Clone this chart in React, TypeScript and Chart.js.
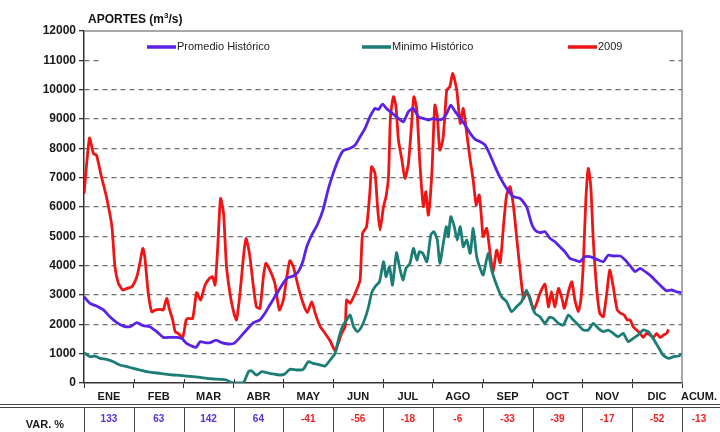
import { useEffect, useRef } from "react";
import { Chart, registerables } from "chart.js";

Chart.register(...registerables);

const FONT = "'Liberation Sans', Arial, sans-serif";

const monthLabels = ["ENE", "FEB", "MAR", "ABR", "MAY", "JUN", "JUL", "AGO", "SEP", "OCT", "NOV", "DIC"];
const accumLabel = "ACUM.";
const rowLabel = "VAR. %";
const varValues = [133, 63, 142, 64, -41, -56, -18, -6, -33, -39, -17, -52];
const varAccum = -13;

const seriesNames = ["Promedio Histórico", "Minimo Histórico", "2009"];

// x in months (0 = 1 Jan, 12 = 31 Dec)
const avgMonths = [0.00,0.12,0.25,0.39,0.52,0.66,0.79,0.92,1.06,1.19,1.32,1.46,1.59,1.73,1.86,1.96,2.06,2.16,2.25,2.33,2.43,2.53,2.65,2.76,2.90,3.01,3.13,3.26,3.40,3.53,3.63,3.73,3.83,3.93,4.07,4.20,4.30,4.39,4.47,4.57,4.68,4.80,4.90,5.00,5.10,5.20,5.34,5.44,5.54,5.64,5.74,5.84,5.91,5.99,6.07,6.17,6.31,6.41,6.51,6.61,6.71,6.81,6.91,7.01,7.11,7.21,7.28,7.36,7.45,7.55,7.65,7.75,7.85,7.95,8.05,8.15,8.25,8.35,8.48,8.62,8.75,8.88,8.98,9.05,9.15,9.25,9.35,9.45,9.55,9.65,9.75,9.85,9.95,10.05,10.15,10.29,10.42,10.52,10.62,10.76,10.86,10.96,11.06,11.16,11.29,11.39,11.49,11.59,11.69,11.79,11.89,11.99];
const avgValues = [2940,2715,2625,2490,2260,2055,1940,1920,2055,1955,1920,1750,1556,1556,1556,1520,1350,1260,1215,1410,1375,1375,1465,1375,1330,1350,1556,1806,2055,2150,2375,2660,2940,3225,3570,3645,3795,4135,4645,5045,5385,5920,6600,7145,7600,7920,8000,8110,8395,8680,9080,9360,9325,9510,9360,9215,9020,8905,9250,9360,9080,9020,8965,9020,8965,9020,9190,9475,9250,9020,8790,8510,8305,8225,8110,7770,7370,7010,6635,6350,6295,6010,5440,5215,5125,5160,4930,4815,4645,4475,4250,4190,4135,4305,4305,4215,4135,4360,4330,4330,4190,3990,3795,3910,3760,3625,3455,3285,3145,3170,3110,3080];

const minMonths = [0.00,0.12,0.22,0.32,0.45,0.59,0.72,0.86,0.99,1.12,1.26,1.39,1.53,1.66,1.79,1.93,2.06,2.19,2.33,2.46,2.60,2.73,2.86,2.96,3.06,3.20,3.30,3.36,3.46,3.57,3.67,3.80,3.93,4.03,4.13,4.27,4.40,4.50,4.60,4.74,4.84,4.94,5.04,5.12,5.20,5.27,5.34,5.41,5.49,5.57,5.64,5.71,5.77,5.84,5.93,6.01,6.06,6.13,6.19,6.27,6.33,6.40,6.46,6.54,6.61,6.68,6.73,6.80,6.88,6.96,7.02,7.09,7.14,7.21,7.27,7.31,7.36,7.43,7.49,7.55,7.61,7.68,7.75,7.81,7.88,7.95,8.01,8.11,8.18,8.28,8.38,8.48,8.58,8.68,8.78,8.88,8.95,9.05,9.15,9.25,9.34,9.42,9.52,9.62,9.72,9.82,9.92,10.02,10.12,10.22,10.32,10.42,10.52,10.62,10.72,10.82,10.92,11.02,11.12,11.22,11.32,11.42,11.52,11.62,11.73,11.83,11.93,11.99];
const minValues = [1035,900,920,840,805,727,615,557,500,443,386,352,330,295,273,261,238,216,193,159,136,125,102,11,0,11,386,420,273,386,352,307,273,307,466,443,466,727,670,615,580,784,1011,1580,1977,2147,2317,1920,1750,1920,2204,2600,3055,3283,3454,4135,3624,3965,3340,4442,3965,3510,3908,4078,4590,4192,4476,4420,4135,5044,5157,4873,4078,4760,5328,4987,5670,5328,4873,5328,4646,4873,4420,5271,4305,3908,3680,4420,3850,3340,2940,2772,2431,2600,2772,3170,2830,2374,2260,2033,2240,2204,2033,1977,2317,2147,1977,1806,1806,2033,1863,1750,1806,1693,1579,1693,1409,1522,1636,1806,1750,1522,1238,954,840,897,920,988];

const y2009Months = [0.00,0.11,0.19,0.25,0.35,0.45,0.56,0.62,0.69,0.78,0.86,0.96,1.06,1.12,1.18,1.22,1.29,1.36,1.44,1.53,1.59,1.66,1.71,1.78,1.83,1.89,1.98,2.05,2.09,2.18,2.26,2.34,2.43,2.52,2.58,2.63,2.68,2.74,2.80,2.86,2.94,3.01,3.06,3.13,3.20,3.25,3.32,3.40,3.46,3.53,3.60,3.65,3.73,3.83,3.92,4.00,4.07,4.13,4.20,4.30,4.40,4.48,4.57,4.64,4.74,4.84,4.94,5.04,5.10,5.17,5.24,5.27,5.34,5.41,5.47,5.54,5.59,5.67,5.74,5.77,5.84,5.89,5.94,6.01,6.06,6.11,6.15,6.21,6.26,6.31,6.38,6.44,6.51,6.58,6.62,6.68,6.74,6.81,6.86,6.91,6.98,7.04,7.09,7.14,7.20,7.24,7.28,7.34,7.40,7.48,7.55,7.61,7.68,7.75,7.81,7.87,7.93,7.98,8.01,8.08,8.15,8.21,8.28,8.35,8.42,8.48,8.55,8.62,8.68,8.75,8.82,8.88,8.95,9.02,9.08,9.15,9.25,9.32,9.38,9.45,9.52,9.59,9.64,9.72,9.79,9.85,9.92,9.97,10.02,10.07,10.12,10.17,10.22,10.29,10.35,10.42,10.49,10.55,10.62,10.70,10.77,10.84,10.90,10.96,11.02,11.09,11.16,11.22,11.29,11.36,11.43,11.49,11.56,11.63,11.69,11.73];
const y2009Values = [6450,8350,7820,7770,7030,6350,5330,3965,3400,3170,3225,3280,3620,4080,4590,4300,3055,2430,2490,2510,2490,2885,2545,2150,1750,1690,1556,2150,2200,2200,3080,2830,3340,3570,3620,3340,4530,6290,5780,3965,2940,2375,2150,3055,4305,4930,4420,3280,2600,2545,3620,4080,3850,3400,2490,2830,3620,4170,3965,3280,2700,2400,2770,2375,1920,1690,1430,1100,1350,1690,1920,2830,2715,2940,3170,3510,5100,5330,6580,7370,7145,6010,5210,6010,6350,7030,9080,9760,9420,8280,7600,6975,7490,8965,9760,9300,7490,6010,6520,5725,7145,9475,9080,7940,8280,9080,9985,10100,10550,9985,8850,9360,8510,7600,6920,6070,6410,5555,4990,5270,4420,3795,4530,4100,5400,6400,6690,6000,5000,3850,2880,3080,2900,2490,2700,3055,3370,2600,3110,2600,3225,2885,2545,3110,3450,2830,2430,2830,4080,6235,7315,6690,4870,3170,2375,2260,3055,3850,3280,2490,2375,2320,2150,2150,1920,1806,1690,1556,1690,1636,1556,1690,1556,1636,1690,1830];

const COLORS = ["#5a22e6", "#1b7d76", "#f01414"];
const POS_COLOR = "#5a30d8";
const NEG_COLOR = "#ee2020";

const toPoints = (xs: number[], ys: number[]) => xs.map((x, i) => ({ x, y: ys[i] }));

const decorPlugin = {
  id: "decor",
  beforeDraw(chart: any) {
    const { ctx, width, height } = chart;
    ctx.save();
    ctx.fillStyle = "#ffffff";
    ctx.fillRect(0, 0, width, height);
    ctx.restore();
  },
  afterDraw(chart: any) {
    const { ctx, chartArea: ca, scales } = chart;
    const xs = scales.x;
    ctx.save();
    // top and right frame
    ctx.strokeStyle = "#8c8c8c";
    ctx.lineWidth = 1.5;
    ctx.setLineDash([]);
    ctx.beginPath();
    ctx.moveTo(ca.left, ca.top);
    ctx.lineTo(ca.right, ca.top);
    ctx.lineTo(ca.right, ca.bottom);
    ctx.stroke();

    // x tick marks crossing the axis upward
    ctx.strokeStyle = "#333";
    ctx.lineWidth = 1;
    for (let i = 1; i < 12; i++) {
      const px = Math.round(xs.getPixelForValue(i)) + 0.5;
      ctx.beginPath();
      ctx.moveTo(px, ca.bottom - 4);
      ctx.lineTo(px, ca.bottom);
      ctx.stroke();
    }

    // legend box
    ctx.fillStyle = "#ffffff";
    ctx.fillRect(ca.left + 16, ca.top + 5, ca.right - ca.left - 31, 27);
    const legendX = [147, 362, 568];
    ctx.font = `11px ${FONT}`;
    ctx.textBaseline = "middle";
    ctx.textAlign = "left";
    seriesNames.forEach((name, i) => {
      const lx = legendX[i];
      const ly = 47;
      ctx.strokeStyle = COLORS[i];
      ctx.lineWidth = 3.5;
      ctx.beginPath();
      ctx.moveTo(lx, ly);
      ctx.lineTo(lx + 29, ly);
      ctx.stroke();
      ctx.fillStyle = "#222";
      ctx.fillText(name, lx + 30, ly);
    });

    // title
    ctx.fillStyle = "#111";
    ctx.font = `bold 12px ${FONT}`;
    ctx.textBaseline = "alphabetic";
    let tx = 88;
    const ty = 23;
    const t1 = "APORTES (m";
    ctx.fillText(t1, tx, ty);
    tx += ctx.measureText(t1).width;
    ctx.font = `bold 8px ${FONT}`;
    ctx.fillText("3", tx, ty - 5);
    tx += ctx.measureText("3").width;
    ctx.font = `bold 12px ${FONT}`;
    ctx.fillText("/s)", tx, ty);

    // month labels
    ctx.font = `bold 11px ${FONT}`;
    ctx.textAlign = "center";
    ctx.textBaseline = "middle";
    ctx.fillStyle = "#1a1a1a";
    monthLabels.forEach((m, i) => {
      ctx.fillText(m, xs.getPixelForValue(i + 0.5), ca.bottom + 14);
    });
    const accX = (ca.right + chart.width) / 2 - 2;
    ctx.fillText(accumLabel, accX, ca.bottom + 14);

    // table
    const tTop = ca.bottom + 24;
    ctx.strokeStyle = "#444";
    ctx.lineWidth = 1;
    ctx.beginPath();
    ctx.moveTo(0, tTop - 2.5);
    ctx.lineTo(chart.width, tTop - 2.5);
    ctx.moveTo(0, tTop + 0.5);
    ctx.lineTo(chart.width, tTop + 0.5);
    ctx.stroke();
    ctx.beginPath();
    for (let i = 0; i <= 12; i++) {
      const px = Math.round(xs.getPixelForValue(i)) + 0.5;
      ctx.moveTo(px, tTop);
      ctx.lineTo(px, chart.height);
    }
    ctx.stroke();

    ctx.font = `bold 10px ${FONT}`;
    varValues.forEach((v, i) => {
      ctx.fillStyle = v >= 0 ? POS_COLOR : NEG_COLOR;
      ctx.fillText(String(v), xs.getPixelForValue(i + 0.5), tTop + 12);
    });
    ctx.fillStyle = varAccum >= 0 ? POS_COLOR : NEG_COLOR;
    ctx.fillText(String(varAccum), accX, tTop + 12);

    ctx.fillStyle = "#1a1a1a";
    ctx.font = `bold 11px ${FONT}`;
    ctx.fillText(rowLabel, 45, tTop + 18);
    ctx.restore();
  },
};

export default function App() {
  const canvasRef = useRef<HTMLCanvasElement | null>(null);

  useEffect(() => {
    document.body.style.margin = "0";
    const canvas = canvasRef.current;
    if (!canvas) return;
    const series = [
      toPoints(avgMonths, avgValues),
      toPoints(minMonths, minValues),
      toPoints(y2009Months, y2009Values),
    ];
    const chart = new Chart(canvas, {
      type: "line",
      data: {
        datasets: series.map((data, i) => ({
          label: seriesNames[i],
          data,
          borderColor: COLORS[i],
          backgroundColor: COLORS[i],
          borderWidth: 2.8,
          pointRadius: 0,
          tension: 0.2,
          fill: false,
        })),
      },
      options: {
        animation: false,
        responsive: false,
        maintainAspectRatio: false,
        layout: { padding: { left: 0, right: 38, top: 31, bottom: 0 } },
        plugins: {
          legend: { display: false },
          title: { display: false },
          tooltip: { enabled: false },
        },
        scales: {
          x: {
            type: "linear",
            min: 0,
            max: 12,
            afterFit: (s: any) => {
              s.height = 49;
            },
            ticks: { stepSize: 1, callback: () => "", autoSkip: false },
            grid: { drawOnChartArea: false, tickLength: 5, color: "#333" },
            border: { color: "#333", width: 1.5 },
          },
          y: {
            min: 0,
            max: 12000,
            afterFit: (s: any) => {
              s.width = 84;
            },
            ticks: {
              stepSize: 1000,
              color: "#1a1a1a",
              padding: 3,
              font: { family: FONT, size: 12, weight: "bold" },
              callback: (v: any) => String(v),
            },
            grid: {
              color: (c: any) =>
                c.tick && (c.tick.value === 0 || c.tick.value === 12000) ? "rgba(0,0,0,0)" : "#6e6e6e",
              lineWidth: 1.3,
              tickLength: 5,
              tickColor: "#333",
            },
            border: { color: "#333", width: 1.5, dash: [5, 4] },
          },
        },
      },
      plugins: [decorPlugin],
    });
    return () => chart.destroy();
  }, []);

  return (
    <div style={{ width: 720, height: 432 }}>
      <canvas ref={canvasRef} width={720} height={432} />
    </div>
  );
}
